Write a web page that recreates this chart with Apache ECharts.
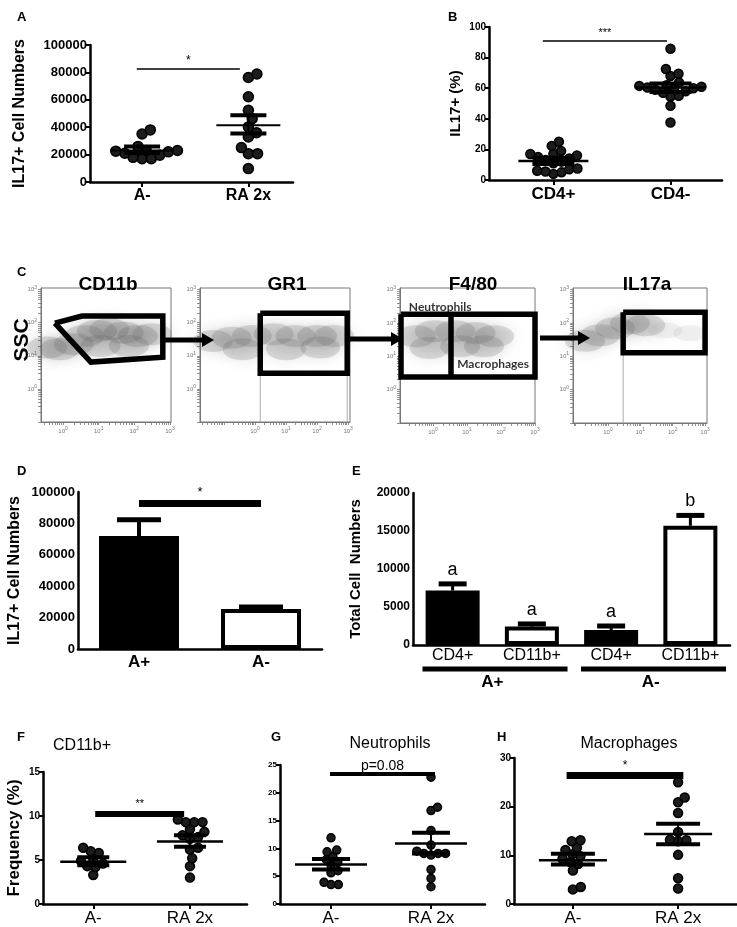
<!DOCTYPE html>
<html lang="en">
<head>
<meta charset="UTF-8">
<title>IL17 panels</title>
<script src="https://cdn.jsdelivr.net/npm/echarts@6.0.0/dist/echarts.min.js"></script>
<style>body{margin:0;background:#fff;}</style>
</head>
<body>
<div id="main" style="width:737px;height:927px;"></div>
<script>
var FONT = '"Liberation Sans", Arial, sans-serif';

// ---- A: IL17+ cell numbers ----
var aGroups = ['A-', 'RA 2x'];
var aNeg = [38000, 35000, 26000, 23000, 23000, 22500, 22000, 21000, 19500, 18000, 17000, 17000];
var aRa = [78800, 76300, 62200, 52400, 46300, 40200, 36000, 32900, 25100, 20700, 20700, 9800];
var aMean = [23000, 41500];
var aSemLo = [21200, 35400];
var aSemHi = [26000, 48800];

// ---- B: IL17+ (%) ----
var bGroups = ['CD4+', 'CD4-'];
var bPos = [25, 22.3, 19, 17, 17, 16, 15, 14, 13, 12, 11, 7.5, 7, 6, 5, 4, 5.5];
var bNeg = [85.8, 72.5, 69.4, 68, 63.8, 62, 61.5, 61, 60.5, 60, 59.5, 59, 58, 57, 55, 54.6, 48.5, 37.6];
var bMean = [12.4, 60.5];
var bSemLo = [10.5, 57.5];
var bSemHi = [14.5, 63];

// ---- C: gating (log10 units) ----
var cTitles = ['CD11b', 'GR1', 'F4/80', 'IL17a'];
var c1Cloud = [[-0.45, 1.25], [-0.1, 1.2], [0.3, 1.35], [0.6, 1.6], [0.95, 1.75], [1.3, 1.8], [1.7, 1.7], [2.1, 1.6], [2.5, 1.65], [1.05, 1.3], [1.85, 1.3]];
var c1Gate = [[-0.23, 1.99], [0.53, 2.2], [2.8, 2.2], [2.8, 0.96], [0.78, 0.81], [-0.23, 1.99]];
var c2Cloud = [[-1.35, 1.45], [-0.75, 1.55], [-0.1, 1.6], [0.6, 1.65], [1.3, 1.6], [2.0, 1.6], [2.55, 1.6], [-0.4, 1.2], [1.0, 1.2], [2.1, 1.25]];
var c2Gate = [[0.17, 2.29], [2.97, 2.29], [2.97, 0.47], [0.17, 0.47], [0.17, 2.29]];
var c2Edges = [0.17, 2.97];
var c3Cloud = [[-0.5, 1.6], [0.05, 1.75], [0.65, 1.75], [1.25, 1.7], [1.8, 1.6], [-0.1, 1.25], [0.8, 1.3], [1.5, 1.3]];
var c3Gate = [[-0.94, 2.26], [3.0, 2.26], [3.0, 0.38], [-0.94, 0.38], [-0.94, 2.26]];
var c3Split = 0.53;
var c3Names = [['Neutrophils', -0.71, 2.47], ['Macrophages', 0.71, 0.78]];
var c4Cloud = [[-0.71, 1.47], [-0.24, 1.63], [0.22, 1.84], [0.68, 1.99], [1.15, 1.93]];
var c4Sparse = [[1.77, 1.78], [2.54, 1.69]];
var c4Gate = [[0.47, 2.32], [3.0, 2.32], [3.0, 1.11], [0.47, 1.11], [0.47, 2.32]];
var c4Edges = [0.47];

// ---- D: IL17+ cell numbers (bars) ----
var dCats = ['A+', 'A-'];
var dVals = [71900, 25400];
var dErr = [82400, 26800];

// ---- E: total cell numbers ----
var eCats = ['CD4+', 'CD11b+', 'CD4+', 'CD11b+'];
var eVals = [7160, 2420, 1980, 15690];
var eErr = [8040, 2770, 2500, 17050];
var eLetters = ['a', 'a', 'a', 'b'];
var eGroups = ['A+', 'A-'];

// ---- F/G/H: frequency (%) ----
var fghGroups = ['A-', 'RA 2x'];
var fNeg = [6.4, 6.0, 5.8, 5.1, 4.9, 4.6, 4.3, 4.2, 3.3];
var fRa = [9.6, 9.3, 9.3, 9.3, 8.5, 8.2, 7.8, 7.6, 7.4, 6.4, 6.2, 5.2, 4.3, 3.0];
var fMean = [4.8, 7.1];
var fSemLo = [4.4, 6.5];
var fSemHi = [5.3, 7.8];
var gNeg = [11.9, 9.7, 9.4, 8.6, 8.0, 7.5, 7.0, 6.0, 5.6, 3.9, 3.5, 3.5];
var gRa = [22.8, 17.4, 16.8, 13.2, 10.6, 9.5, 9.1, 9.1, 9.1, 8.8, 6.2, 4.6, 3.1];
var gMean = [7.1, 10.9];
var gSemLo = [6.2, 9.1];
var gSemHi = [8.1, 12.8];
var hNeg = [13.1, 12.9, 11.6, 11.1, 10.2, 9.8, 9.3, 8.6, 8.2, 6.9, 3.5, 3.0];
var hRa = [25.0, 21.9, 20.9, 18.7, 14.8, 13.2, 13.1, 12.9, 10.1, 5.3, 3.2];
var hMean = [9.0, 14.4];
var hSemLo = [8.1, 12.3];
var hSemHi = [10.3, 16.5];

var chart = echarts.init(document.getElementById('main'));
var grids = [], xAxes = [], yAxes = [], series = [], titles = [], graphics = [];

function plain(v) { return String(v); }

// deterministic beeswarm: nearest free spot to the group centre
function swarm(vals, cx, p) {
  var r = p.dot / 2 * 0.92;
  var ux = p.width / (p.xMax - p.xMin);
  var uy = p.height / p.yMax;
  var placed = [], out = [];
  vals.slice().sort(function (a, b) { return a - b; }).forEach(function (v) {
    var py = v * uy;
    var cands = [0];
    placed.forEach(function (q) {
      var dy = py - q[1];
      if (Math.abs(dy) < 2 * r) {
        var dx = Math.sqrt(4 * r * r - dy * dy);
        cands.push(q[0] + dx, q[0] - dx);
      }
    });
    cands.sort(function (a, b) { return Math.abs(a) - Math.abs(b); });
    var best = cands.find(function (c) {
      return placed.every(function (q) {
        var dx = c - q[0], dy = py - q[1];
        return dx * dx + dy * dy >= 4 * r * r - 0.01;
      });
    });
    placed.push([best, py]);
    out.push([cx + best / ux, v]);
  });
  return out;
}

function meanSem(p) {
  return function (params, api) {
    var c = api.coord([api.value(0), api.value(1)]);
    var lo = api.coord([api.value(0), api.value(2)]);
    var hi = api.coord([api.value(0), api.value(3)]);
    var sm = { stroke: '#000', lineWidth: p.meanW };
    var ss = { stroke: '#000', lineWidth: p.semW };
    return { type: 'group', children: [
      { type: 'line', shape: { x1: c[0] - p.meanHalf, y1: c[1], x2: c[0] + p.meanHalf, y2: c[1] }, style: sm },
      { type: 'line', shape: { x1: c[0], y1: lo[1], x2: c[0], y2: hi[1] }, style: { stroke: '#000', lineWidth: 2 } },
      { type: 'line', shape: { x1: c[0] - p.semHalf, y1: lo[1], x2: c[0] + p.semHalf, y2: lo[1] }, style: ss },
      { type: 'line', shape: { x1: c[0] - p.semHalf, y1: hi[1], x2: c[0] + p.semHalf, y2: hi[1] }, style: ss }
    ] };
  };
}

function axisCommon(w) {
  return { show: true, onZero: false, lineStyle: { color: '#000', width: w } };
}

function scatterPanel(p) {
  var gi = grids.length;
  grids.push({ left: p.left, top: p.top, width: p.width, height: p.height });
  xAxes.push({
    gridIndex: gi, type: 'value', min: p.xMin, max: p.xMax, splitLine: { show: false },
    axisLine: axisCommon(p.axisW),
    axisTick: { customValues: [1, 2], length: 5, lineStyle: { color: '#000', width: 2 } },
    axisLabel: { customValues: [1, 2], formatter: function (v) { return p.groups[Math.round(v) - 1]; },
      color: '#000', fontFamily: FONT, fontSize: p.xFont, fontWeight: p.xBold ? 'bold' : 'normal', margin: 6 }
  });
  yAxes.push({
    gridIndex: gi, type: 'value', min: 0, max: p.yMax, interval: p.yStep, splitLine: { show: false },
    name: p.yName || '', nameLocation: 'middle', nameGap: p.nameGap || 0, nameRotate: 90,
    nameTextStyle: { fontFamily: FONT, fontWeight: 'bold', fontSize: p.nameFont || 12, color: '#000' },
    axisLine: axisCommon(p.axisW),
    axisTick: { length: 4, lineStyle: { color: '#000', width: 2 } },
    axisLabel: { formatter: plain, color: '#000', fontFamily: FONT, fontSize: p.yFont, fontWeight: 'bold', margin: 3 }
  });
  p.values.forEach(function (vals, k) {
    var s = { type: 'scatter', xAxisIndex: gi, yAxisIndex: gi, data: swarm(vals, k + 1, p), symbolSize: p.dot,
      itemStyle: { color: '#1c1c1c', borderColor: '#000', borderWidth: 1.5, opacity: 1 }, silent: true, z: 2 };
    if (k === 0) {
      s.markLine = {
        silent: true, symbol: ['none', 'none'], animation: false,
        lineStyle: { type: 'solid', color: '#000', width: p.sig[4] },
        label: { show: true, position: 'middle', formatter: p.sig[3], color: '#000', fontFamily: FONT,
          fontSize: p.sig[5], distance: p.sig[6] },
        emphasis: { disabled: true },
        data: [[{ coord: [p.sig[0], p.sig[2]] }, { coord: [p.sig[1], p.sig[2]] }]]
      };
    }
    series.push(s);
  });
  series.push({ type: 'custom', xAxisIndex: gi, yAxisIndex: gi, renderItem: meanSem(p), clip: false, silent: true, z: 5,
    data: p.mean.map(function (m, k) { return [k + 1, m, p.semLo[k], p.semHi[k]]; }) });
}

function logTicks(min, max) {
  var t = [];
  for (var d = -2; d <= 3; d++) {
    for (var k = 1; k <= 9; k++) {
      var v = d + Math.log10(k);
      if (v >= min - 1e-6 && v <= max + 1e-6) t.push(v);
    }
  }
  return t;
}

function flowAxis(gi, min, max) {
  return {
    gridIndex: gi, type: 'value', min: min, max: max, splitLine: { show: false },
    axisLine: { show: true, onZero: false, lineStyle: { color: '#777', width: 1 } },
    axisTick: { customValues: logTicks(min, max), length: 3, lineStyle: { color: '#777', width: 0.8 } },
    axisLabel: { customValues: [0, 1, 2, 3], formatter: function (v) { return '10{s|' + v + '}'; },
      color: '#777', fontFamily: FONT, fontSize: 6, margin: 4,
      rich: { s: { fontSize: 5, color: '#777', padding: [0, 0, 5, 0] } } }
  };
}

function gateSeries(gi, pts) {
  return { type: 'line', xAxisIndex: gi, yAxisIndex: gi, data: pts, symbol: 'none', clip: false, silent: true, z: 6,
    lineStyle: { color: '#000', width: 5.5, join: 'miter' } };
}

function flowPanel(p) {
  var gi = grids.length;
  grids.push({ left: p.left, top: p.top, width: p.width, height: p.height, show: true, borderColor: '#777', borderWidth: 1 });
  xAxes.push(flowAxis(gi, p.xMin, p.xMax));
  yAxes.push(flowAxis(gi, -1, 3.05));
  series.push({ type: 'scatter', xAxisIndex: gi, yAxisIndex: gi, data: p.cloud, symbolSize: [40, 22], silent: true, z: 2,
    itemStyle: { color: 'rgba(90,90,90,0.24)', shadowBlur: 14, shadowColor: 'rgba(90,90,90,0.75)' } });
  if (p.sparse) {
    series.push({ type: 'scatter', xAxisIndex: gi, yAxisIndex: gi, data: p.sparse, symbolSize: [34, 16], silent: true, z: 2,
      itemStyle: { color: 'rgba(150,150,150,0.14)', shadowBlur: 12, shadowColor: 'rgba(150,150,150,0.5)' } });
  }
  (p.edges || []).forEach(function (x) {
    series.push({ type: 'line', xAxisIndex: gi, yAxisIndex: gi, data: [[x, p.gate[2][1]], [x, -1]], symbol: 'none',
      silent: true, z: 3, lineStyle: { color: '#aaa', width: 1 } });
  });
  series.push(gateSeries(gi, p.gate));
  return gi;
}

// ---------- panels ----------
scatterPanel({ left: 90, top: 45, width: 203, height: 137, xMin: 0.51, xMax: 2.42, yMax: 100000, yStep: 20000,
  groups: aGroups, values: [aNeg, aRa], mean: aMean, semLo: aSemLo, semHi: aSemHi,
  yName: 'IL17+ Cell Numbers', nameGap: 62, nameFont: 16, yFont: 13, xFont: 16, xBold: true, axisW: 2.5,
  dot: 10, meanHalf: 32, semHalf: 18, meanW: 2, semW: 4, sig: [0.95, 1.92, 83000, '*', 1.5, 12, 2] });

scatterPanel({ left: 489, top: 27, width: 233, height: 153, xMin: 0.45, xMax: 2.44, yMax: 100, yStep: 20,
  groups: bGroups, values: [bPos, bNeg], mean: bMean, semLo: bSemLo, semHi: bSemHi,
  yName: 'IL17+ (%)', nameGap: 26, nameFont: 15, yFont: 10, xFont: 17, xBold: true, axisW: 2.5,
  dot: 9, meanHalf: 35, semHalf: 21, meanW: 2.5, semW: 4, sig: [0.91, 1.97, 91, '***', 1.5, 11, 2] });

var c1 = flowPanel({ left: 41, top: 288, width: 130, height: 134, xMin: -0.62, xMax: 3.03, cloud: c1Cloud, gate: c1Gate });
var c2 = flowPanel({ left: 200, top: 288, width: 150, height: 134, xMin: -1.77, xMax: 3.06, cloud: c2Cloud, gate: c2Gate, edges: c2Edges });
var c3 = flowPanel({ left: 400, top: 288, width: 135, height: 135, xMin: -0.97, xMax: 3.0, cloud: c3Cloud, gate: c3Gate });
var c4 = flowPanel({ left: 573, top: 288, width: 134, height: 135, xMin: -1.08, xMax: 3.06, cloud: c4Cloud, sparse: c4Sparse, gate: c4Gate, edges: c4Edges });
series.push(gateSeries(c3, [[c3Split, c3Gate[0][1]], [c3Split, c3Gate[2][1]]]));
series.push({ type: 'scatter', xAxisIndex: c3, yAxisIndex: c3, symbolSize: 0, silent: true, z: 7,
  data: c3Names.map(function (n) { return { name: n[0], value: [n[1], n[2]] }; }),
  label: { show: true, position: 'right', distance: 0, formatter: '{b}', color: '#000', fontFamily: 'Lato, sans-serif',
    fontWeight: 'bold', fontSize: 12 } });

// D
(function () {
  var gi = grids.length;
  grids.push({ left: 78, top: 492, width: 244, height: 157 });
  xAxes.push({ gridIndex: gi, type: 'category', data: dCats, axisLine: axisCommon(2.5),
    axisTick: { alignWithLabel: true, length: 5, lineStyle: { color: '#000', width: 2 } },
    axisLabel: { color: '#000', fontFamily: FONT, fontSize: 17, fontWeight: 'bold', margin: 5 } });
  yAxes.push({ gridIndex: gi, type: 'value', min: 0, max: 100000, interval: 20000, splitLine: { show: false },
    name: 'IL17+ Cell Numbers', nameLocation: 'middle', nameGap: 55, nameRotate: 90,
    nameTextStyle: { fontFamily: FONT, fontWeight: 'bold', fontSize: 16, color: '#000' },
    axisLine: axisCommon(2.5), axisTick: { length: 4, lineStyle: { color: '#000', width: 2 } },
    axisLabel: { formatter: plain, color: '#000', fontFamily: FONT, fontSize: 13, fontWeight: 'bold', margin: 3 } });
  series.push({ type: 'bar', xAxisIndex: gi, yAxisIndex: gi, barWidth: 80, silent: true,
    data: dVals.map(function (v, i) {
      return { value: v, itemStyle: { color: i === 0 ? '#000' : '#fff', borderColor: '#000', borderWidth: 4 } };
    }),
    markLine: { silent: true, symbol: ['none', 'none'], animation: false,
      lineStyle: { type: 'solid', color: '#000', width: 7 },
      label: { show: true, position: 'middle', formatter: '*', color: '#000', fontFamily: FONT, fontSize: 13, distance: 4 },
      data: [[{ coord: [0, 93000] }, { coord: [1, 93000] }]] } });
  series.push({ type: 'custom', xAxisIndex: gi, yAxisIndex: gi, silent: true, clip: false, z: 1,
    data: dVals.map(function (v, i) { return [i, v, dErr[i]]; }),
    renderItem: function (params, api) {
      var b = api.coord([api.value(0), api.value(1)]);
      var t = api.coord([api.value(0), api.value(2)]);
      return { type: 'group', children: [
        { type: 'line', shape: { x1: b[0], y1: b[1], x2: t[0], y2: t[1] }, style: { stroke: '#000', lineWidth: 4 } },
        { type: 'line', shape: { x1: t[0] - 22, y1: t[1], x2: t[0] + 22, y2: t[1] }, style: { stroke: '#000', lineWidth: 5 } }
      ] };
    } });
})();

// E
(function () {
  var gi = grids.length;
  grids.push({ left: 413, top: 493, width: 317, height: 152 });
  xAxes.push({ gridIndex: gi, type: 'category', data: eCats, axisLine: axisCommon(2.5),
    axisTick: { alignWithLabel: true, length: 4, lineStyle: { color: '#000', width: 2 } },
    axisLabel: { color: '#000', fontFamily: FONT, fontSize: 16, margin: 3, interval: 0 } });
  yAxes.push({ gridIndex: gi, type: 'value', min: 0, max: 20000, interval: 5000, splitLine: { show: false },
    name: 'Total Cell  Numbers', nameLocation: 'middle', nameGap: 50, nameRotate: 90,
    nameTextStyle: { fontFamily: FONT, fontWeight: 'bold', fontSize: 15, color: '#000' },
    axisLine: axisCommon(2.5), axisTick: { length: 4, lineStyle: { color: '#000', width: 2 } },
    axisLabel: { formatter: plain, color: '#000', fontFamily: FONT, fontSize: 12, fontWeight: 'bold', margin: 3 } });
  series.push({ type: 'bar', xAxisIndex: gi, yAxisIndex: gi, barWidth: 54, silent: true,
    data: eVals.map(function (v, i) {
      return { value: v, itemStyle: { color: i % 2 === 0 ? '#000' : '#fff', borderColor: '#000', borderWidth: 4 } };
    }) });
  series.push({ type: 'custom', xAxisIndex: gi, yAxisIndex: gi, silent: true, clip: false, z: 1,
    data: eVals.map(function (v, i) { return [i, v, eErr[i]]; }),
    renderItem: function (params, api) {
      var b = api.coord([api.value(0), api.value(1)]);
      var t = api.coord([api.value(0), api.value(2)]);
      return { type: 'group', children: [
        { type: 'line', shape: { x1: b[0], y1: b[1], x2: t[0], y2: t[1] }, style: { stroke: '#000', lineWidth: 3 } },
        { type: 'line', shape: { x1: t[0] - 14, y1: t[1], x2: t[0] + 14, y2: t[1] }, style: { stroke: '#000', lineWidth: 5 } },
        { type: 'text', x: t[0], y: t[1] - 5, style: { text: eLetters[params.dataIndex], align: 'center', verticalAlign: 'bottom',
          fontFamily: FONT, fontSize: 18, fill: '#000' } }
      ] };
    } });
  series.push({ type: 'custom', xAxisIndex: gi, yAxisIndex: gi, silent: true, clip: false,
    data: [[0, 1], [2, 3]],
    renderItem: function (params, api) {
      var a = api.coord([api.value(0), 0]);
      var b = api.coord([api.value(1), 0]);
      var bw = api.size([1, 0])[0];
      return { type: 'group', children: [
        { type: 'line', shape: { x1: a[0] - bw * 0.38, y1: a[1] + 24, x2: b[0] + bw * 0.45, y2: a[1] + 24 },
          style: { stroke: '#000', lineWidth: 5 } },
        { type: 'text', x: (a[0] + b[0]) / 2, y: a[1] + 29, style: { text: eGroups[params.dataIndex], align: 'center',
          verticalAlign: 'top', fontFamily: FONT, fontWeight: 'bold', fontSize: 17, fill: '#000' } }
      ] };
    } });
})();

scatterPanel({ left: 43, top: 772, width: 204, height: 133, xMin: 0.48, xMax: 2.59, yMax: 15, yStep: 5,
  groups: fghGroups, values: [fNeg, fRa], mean: fMean, semLo: fSemLo, semHi: fSemHi,
  yName: 'Frequency (%)', nameGap: 20, nameFont: 17, yFont: 10, xFont: 17, xBold: false, axisW: 2.5,
  dot: 9, meanHalf: 33, semHalf: 16, meanW: 2.5, semW: 4, sig: [1.02, 1.94, 10.3, '**', 6, 11, 4] });

scatterPanel({ left: 280, top: 765, width: 205, height: 142, xMin: 0.49, xMax: 2.54, yMax: 25, yStep: 5,
  groups: fghGroups, values: [gNeg, gRa], mean: gMean, semLo: gSemLo, semHi: gSemHi,
  yFont: 8, xFont: 17, xBold: false, axisW: 2.5,
  dot: 8, meanHalf: 36, semHalf: 19, meanW: 2.5, semW: 4, sig: [0.99, 2.04, 23.5, 'p=0.08', 4, 14, 0] });

scatterPanel({ left: 514, top: 758, width: 223, height: 149, xMin: 0.44, xMax: 2.56, yMax: 30, yStep: 10,
  groups: fghGroups, values: [hNeg, hRa], mean: hMean, semLo: hSemLo, semHi: hSemHi,
  yFont: 10, xFont: 17, xBold: false, axisW: 2.5,
  dot: 9, meanHalf: 34, semHalf: 22, meanW: 2.5, semW: 4, sig: [0.94, 2.05, 26.4, '*', 7, 12, 4] });

// ---------- text ----------
function addTitle(text, x, y, size, weight, align) {
  titles.push({ text: text, left: x, top: y, textAlign: align || 'left',
    textStyle: { fontFamily: FONT, fontSize: size, fontWeight: weight, color: '#000' } });
}
[['A', 12, 6], ['B', 443, 6], ['C', 12, 261], ['D', 12, 460], ['E', 347, 460], ['F', 12, 726], ['G', 266, 726], ['H', 492, 726]]
  .forEach(function (l) { addTitle(l[0], l[1], l[2], 13, 'bold'); });
addTitle(cTitles[0], 103, 270, 19, 'bold', 'center');
addTitle(cTitles[1], 282, 270, 19, 'bold', 'center');
addTitle(cTitles[2], 468, 270, 19, 'bold', 'center');
addTitle(cTitles[3], 642, 270, 19, 'bold', 'center');
addTitle('CD11b+', 77, 733, 16, 'normal', 'center');
addTitle('Neutrophils', 385, 731, 16, 'normal', 'center');
addTitle('Macrophages', 624, 731, 16, 'normal', 'center');

graphics.push({ type: 'text', x: 22, y: 340, rotation: Math.PI / 2,
  style: { text: 'SSC', align: 'center', verticalAlign: 'middle', fontFamily: FONT, fontWeight: 'bold', fontSize: 21, fill: '#000' } });

// arrows between gating plots
[[165, 214, 340], [349, 403, 339], [540, 590, 338]].forEach(function (a) {
  graphics.push({ type: 'line', shape: { x1: a[0], y1: a[2], x2: a[1] - 10, y2: a[2] }, style: { stroke: '#000', lineWidth: 5 }, z: 10 });
  graphics.push({ type: 'polygon', shape: { points: [[a[1] - 12, a[2] - 7], [a[1], a[2]], [a[1] - 12, a[2] + 7]] },
    style: { fill: '#000' }, z: 10 });
});

chart.setOption({
  animation: false,
  backgroundColor: '#fff',
  title: titles,
  grid: grids,
  xAxis: xAxes,
  yAxis: yAxes,
  series: series,
  graphic: graphics
});
</script>
</body>
</html>
